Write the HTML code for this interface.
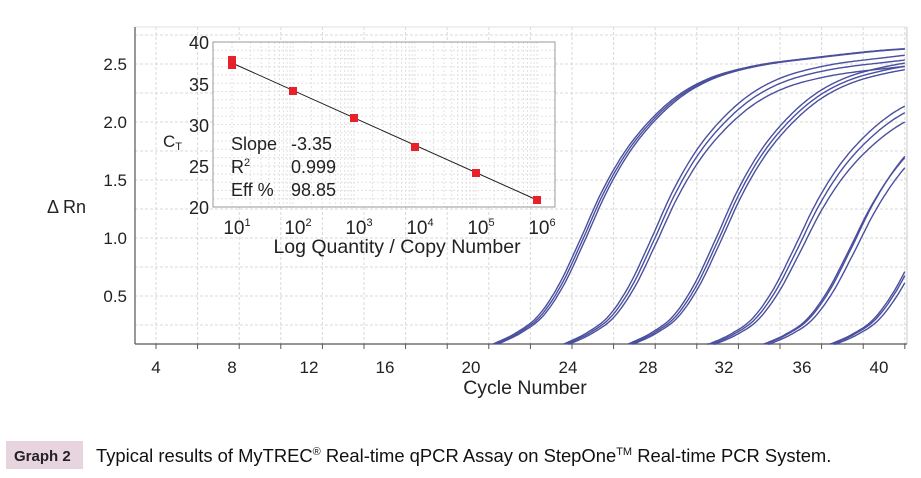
<!DOCTYPE html>
<html><head><meta charset="utf-8"><style>
body{margin:0;background:#fff;width:921px;height:478px;overflow:hidden;font-family:"Liberation Sans",sans-serif}
svg{position:absolute;left:0;top:0}
</style></head><body>
<svg width="921" height="478" xmlns="http://www.w3.org/2000/svg" font-family="Liberation Sans, sans-serif">
<g id="grid" stroke="#d8d8d8" stroke-width="1" stroke-dasharray="3,2"></g>
<line x1="135" y1="27" x2="907" y2="27" stroke="#e0e0e0"/>
<line x1="907" y1="27" x2="907" y2="344" stroke="#c8c8c8"/>
<line x1="135" y1="27" x2="135" y2="344" stroke="#555" stroke-width="1.2"/>
<line x1="135" y1="344" x2="907" y2="344" stroke="#555" stroke-width="1.2"/>
<g id="ticks" stroke="#555"></g>
<g id="curves" fill="none" stroke="#4a4f9e" stroke-width="1.4"></g>
<g font-size="17" fill="#222" text-anchor="end">
<text x="127" y="70">2.5</text><text x="127" y="128">2.0</text><text x="127" y="186">1.5</text><text x="127" y="244">1.0</text><text x="127" y="302">0.5</text>
</g>
<g font-size="17" fill="#222" text-anchor="middle">
<text x="156" y="373">4</text><text x="232" y="373">8</text><text x="309" y="373">12</text><text x="385" y="373">16</text><text x="471" y="373">20</text><text x="568" y="373">24</text><text x="648" y="373">28</text><text x="724" y="373">32</text><text x="802" y="373">36</text><text x="879" y="373">40</text>
<text x="525" y="394" font-size="19.5">Cycle Number</text>
</g>
<text x="47" y="213" font-size="18" fill="#222">Δ Rn</text>
<!-- inset -->
<rect x="213" y="42" width="342" height="165" fill="#fff" stroke="#bbb"/>
<g id="igrid" stroke="#e2e2e2" stroke-dasharray="2,2"></g>
<rect x="213" y="42" width="342" height="165" fill="none" stroke="#999"/>
<g font-size="18" fill="#222" text-anchor="end">
<text x="209" y="49">40</text><text x="209" y="91">35</text><text x="209" y="132">30</text><text x="209" y="173">25</text><text x="209" y="214">20</text>
</g>
<text x="163" y="147" font-size="17" fill="#222">C<tspan font-size="11" dy="3">T</tspan></text>
<g font-size="18" fill="#222">
<text x="231" y="150">Slope</text><text x="291" y="150">-3.35</text>
<text x="231" y="173">R<tspan font-size="11" dy="-7">2</tspan></text><text x="291" y="173">0.999</text>
<text x="231" y="196">Eff %</text><text x="291" y="196">98.85</text>
</g>
<g font-size="19" fill="#222" text-anchor="middle">
<text x="237" y="234">10<tspan font-size="11" dy="-8">1</tspan></text>
<text x="298" y="234">10<tspan font-size="11" dy="-8">2</tspan></text>
<text x="359" y="234">10<tspan font-size="11" dy="-8">3</tspan></text>
<text x="420" y="234">10<tspan font-size="11" dy="-8">4</tspan></text>
<text x="481" y="234">10<tspan font-size="11" dy="-8">5</tspan></text>
<text x="542" y="234">10<tspan font-size="11" dy="-8">6</tspan></text>
<text x="397" y="253" font-size="19.5">Log Quantity / Copy Number</text>
</g>
<line x1="232" y1="63" x2="537" y2="200" stroke="#222" stroke-width="1"/>
<g fill="#e8202a">
<rect x="228" y="56" width="8" height="8"/><rect x="228" y="61" width="8" height="8"/>
<rect x="289" y="87" width="8" height="8"/><rect x="350" y="114" width="8" height="8"/>
<rect x="411" y="143" width="8" height="8"/><rect x="472" y="169" width="8" height="8"/>
<rect x="533" y="196" width="8" height="8"/>
</g>
<!-- caption -->
<rect x="6" y="441" width="77" height="28" fill="#e8d4df"/>
<text x="14" y="461" font-size="15" font-weight="bold" fill="#222">Graph 2</text>
<text x="96" y="462" font-size="18.4" fill="#111">Typical results of MyTREC<tspan font-size="11" dy="-7">®</tspan><tspan dy="7"> Real-time qPCR Assay on StepOne</tspan><tspan font-size="11" dy="-7">TM</tspan><tspan dy="7"> Real-time PCR System.</tspan></text>
</svg>
<script>
var NS="http://www.w3.org/2000/svg";
function el(p,t,a){var e=document.createElementNS(NS,t);for(var k in a)e.setAttribute(k,a[k]);p.appendChild(e);return e;}
var g=document.getElementById("grid"),tk=document.getElementById("ticks");
function X(c){return 156+(c-4)*20.8;}
function Y(v){return 354-v*116;}
for(var c=4;c<=40;c+=2){var x=X(c);el(g,"line",{x1:x,y1:27,x2:x,y2:344});el(tk,"line",{x1:x,y1:344,x2:x,y2:349});}
for(var v=0.25;v<2.8;v+=0.25){var y=Y(v);if(y>27&&y<344)el(g,"line",{x1:135,y1:y,x2:907,y2:y});}
var ig=document.getElementById("igrid");
for(var d=0;d<6;d++){for(var m=1;m<=9;m++){var xx=232+d*61+Math.log10(m)*61; if(xx>213&&xx<555)el(ig,"line",{x1:xx,y1:42,x2:xx,y2:207});}}
for(var v=21;v<40;v++){var y=207-(v-20)*8.25;el(ig,"line",{x1:213,y1:y,x2:555,y2:y});}
var P=[[17,0],[19.5,0.03],[20.5,0.1],[21.5,0.19],[22.5,0.33],[23.5,0.6],[24.5,0.98],[25.5,1.38],[26.5,1.7],[27.5,1.94],[29,2.2],[30.5,2.36],[32.5,2.47],[36,2.56],[40,2.63],[60,2.7]];
var n=P.length,xs=P.map(p=>p[0]),ys=P.map(p=>p[1]),dl=[],m=[];
for(var i=0;i<n-1;i++)dl.push((ys[i+1]-ys[i])/(xs[i+1]-xs[i]));
m[0]=dl[0];m[n-1]=dl[n-2];
for(var i=1;i<n-1;i++){m[i]=(dl[i-1]*dl[i]<=0)?0:(dl[i-1]+dl[i])/2;}
for(var i=0;i<n-1;i++){if(dl[i]==0){m[i]=m[i+1]=0;continue;}var a=m[i]/dl[i],b=m[i+1]/dl[i],h=a*a+b*b;if(h>9){var t=3/Math.sqrt(h);m[i]=t*a*dl[i];m[i+1]=t*b*dl[i];}}
function F(c){if(c<=xs[0])return 0;if(c>=xs[n-1])return ys[n-1];var i=0;while(c>xs[i+1])i++;var h=xs[i+1]-xs[i],t=(c-xs[i])/h,t2=t*t,t3=t2*t;
return (2*t3-3*t2+1)*ys[i]+(t3-2*t2+t)*h*m[i]+(-2*t3+3*t2)*ys[i+1]+(t3-t2)*h*m[i+1];}
var cg=document.getElementById("curves");
var groups=[[0,1.0,[0,0,0]],[3.4,1.0,[0,-0.015,-0.035]],[6.5,1.0,[0.0,-0.01,-0.02]],[10.3,0.91,[0.02,0,-0.03]],[12.9,0.9,[0,0.02,-0.02]],[16.1,0.9,[0,0.01,-0.02]]];
groups.forEach(function(gp){
 [-0.12,0,0.12].forEach(function(o,k){
  var sh=gp[0]+o,sc=gp[1]+gp[2][k];
  var d="",prev=null;
  for(var c=17;c<=40.01;c+=0.1){
   var v=sc*F(c-sh);
   var y=Y(v);
   if(y>=344){prev=[X(c),344];continue;}
   if(!d&&prev)d="M"+prev[0].toFixed(1)+",344";
   d+=(d?"L":"M")+X(c).toFixed(1)+","+y.toFixed(1);
  }
  if(d)el(cg,"path",{d:d});
 });
});
</script>
</body></html>
